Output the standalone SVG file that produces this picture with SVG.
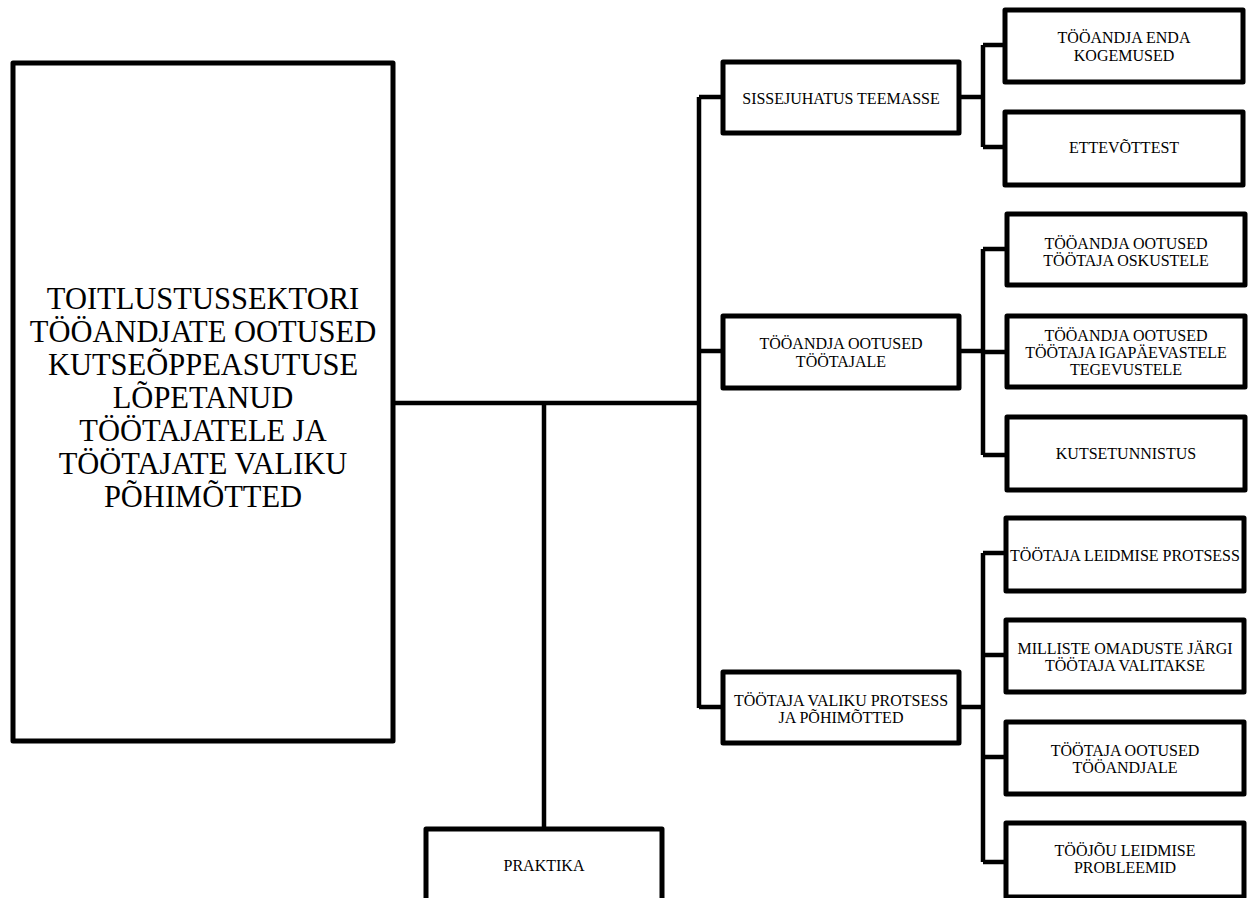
<svg xmlns="http://www.w3.org/2000/svg" width="1251" height="898" viewBox="0 0 1251 898">
<style>
.box{fill:#fff;stroke:#000;stroke-width:5;stroke-linejoin:round}
.ln{fill:none;stroke:#000;stroke-width:4.5;stroke-linejoin:miter}
text{font-family:'Liberation Serif','Times New Roman',serif;fill:#000;text-anchor:middle;dominant-baseline:central}
.big{font-size:30.5px}
.sm{font-size:16px}
</style>
<rect width="1251" height="898" fill="#fff"/>
<g id="connectors">
<path class="ln" d="M393 403H699M699 97V708M699 97H723M699 351H723M699 707H723M544 403V829"/>
<path class="ln" d="M959 97H983M983 45V147M983 45H1005M983 147H1005"/>
<path class="ln" d="M959 351H983M983 249V455M983 249H1007M983 352H1007M983 455H1007"/>
<path class="ln" d="M959 707H983M983 553V862M983 553H1006M983 655H1006M983 757H1006M983 862H1006"/>
</g>
<g id="root">
<rect class="box" x="13" y="63" width="380" height="678"/>
<text class="big" x="203"><tspan x="203" y="299">TOITLUSTUSSEKTORI</tspan><tspan x="203" y="332">TÖÖANDJATE OOTUSED</tspan><tspan x="203" y="365">KUTSEÕPPEASUTUSE</tspan><tspan x="203" y="398">LÕPETANUD</tspan><tspan x="203" y="431">TÖÖTAJATELE JA</tspan><tspan x="203" y="464">TÖÖTAJATE VALIKU</tspan><tspan x="203" y="497">PÕHIMÕTTED</tspan></text>
</g>
<g id="n-sissejuhatus">
<rect class="box" x="723" y="62" width="236" height="71"/>
<text class="sm" x="841" y="98">SISSEJUHATUS TEEMASSE</text>
</g>
<g id="n-tooandja-enda">
<rect class="box" x="1005" y="10" width="238" height="72"/>
<text class="sm" x="1124"><tspan x="1124" y="37">TÖÖANDJA ENDA</tspan><tspan x="1124" y="55">KOGEMUSED</tspan></text>
</g>
<g id="n-ettevottest">
<rect class="box" x="1005" y="112" width="238" height="73"/>
<text class="sm" x="1124" y="147">ETTEVÕTTEST</text>
</g>
<g id="n-ootused-tootajale">
<rect class="box" x="723" y="316" width="236" height="72"/>
<text class="sm" x="841"><tspan x="841" y="343">TÖÖANDJA OOTUSED</tspan><tspan x="841" y="361">TÖÖTAJALE</tspan></text>
</g>
<g id="n-oskustele">
<rect class="box" x="1007" y="214" width="238" height="71"/>
<text class="sm" x="1126"><tspan x="1126" y="243">TÖÖANDJA OOTUSED</tspan><tspan x="1126" y="260">TÖÖTAJA OSKUSTELE</tspan></text>
</g>
<g id="n-igapaevastele">
<rect class="box" x="1007" y="316" width="238" height="71"/>
<text class="sm" x="1126"><tspan x="1126" y="335">TÖÖANDJA OOTUSED</tspan><tspan x="1126" y="352">TÖÖTAJA IGAPÄEVASTELE</tspan><tspan x="1126" y="369">TEGEVUSTELE</tspan></text>
</g>
<g id="n-kutsetunnistus">
<rect class="box" x="1007" y="417" width="238" height="73"/>
<text class="sm" x="1126" y="453">KUTSETUNNISTUS</text>
</g>
<g id="n-valiku-protsess">
<rect class="box" x="723" y="672" width="236" height="71"/>
<text class="sm" x="841"><tspan x="841" y="700">TÖÖTAJA VALIKU PROTSESS</tspan><tspan x="841" y="717">JA PÕHIMÕTTED</tspan></text>
</g>
<g id="n-leidmise-protsess">
<rect class="box" x="1006" y="518" width="238" height="73"/>
<text class="sm" x="1125" y="555">TÖÖTAJA LEIDMISE PROTSESS</text>
</g>
<g id="n-omaduste">
<rect class="box" x="1006" y="620" width="238" height="72"/>
<text class="sm" x="1125"><tspan x="1125" y="648">MILLISTE OMADUSTE JÄRGI</tspan><tspan x="1125" y="665">TÖÖTAJA VALITAKSE</tspan></text>
</g>
<g id="n-tootaja-ootused">
<rect class="box" x="1006" y="722" width="238" height="72"/>
<text class="sm" x="1125"><tspan x="1125" y="750">TÖÖTAJA OOTUSED</tspan><tspan x="1125" y="767">TÖÖANDJALE</tspan></text>
</g>
<g id="n-toojou">
<rect class="box" x="1006" y="823" width="238" height="74"/>
<text class="sm" x="1125"><tspan x="1125" y="850">TÖÖJÕU LEIDMISE</tspan><tspan x="1125" y="867">PROBLEEMID</tspan></text>
</g>
<g id="n-praktika">
<rect class="box" x="426" y="829" width="236" height="90"/>
<text class="sm" x="544" y="865">PRAKTIKA</text>
</g>
</svg>
